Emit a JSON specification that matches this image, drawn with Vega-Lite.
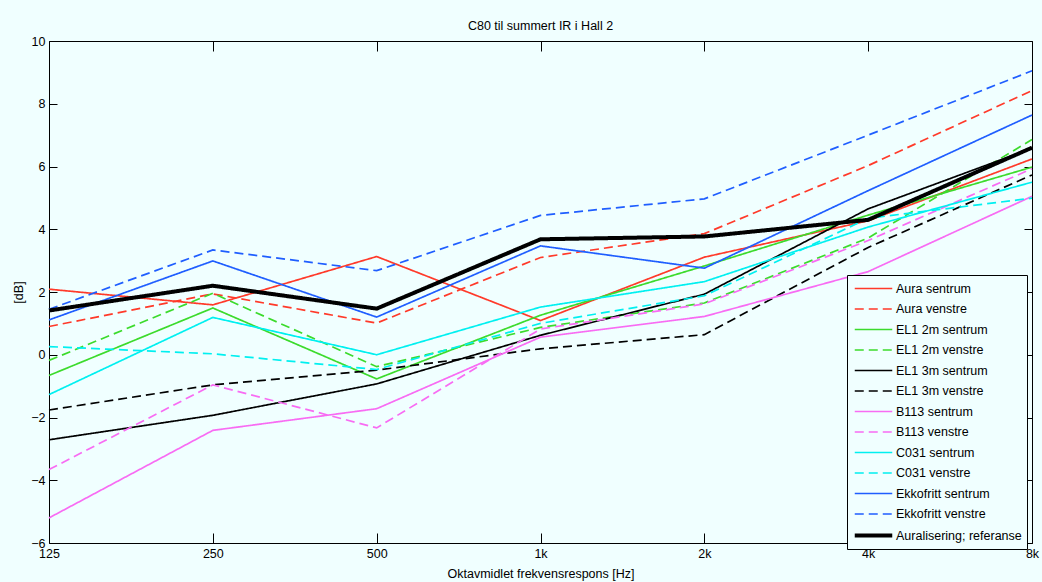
{
  "$schema": "https://vega.github.io/schema/vega-lite/v6.json",
  "width": 983,
  "height": 502,
  "autosize": "none",
  "padding": {"left": 49, "top": 41, "right": 10, "bottom": 39},
  "background": "#F0FFFF",
  "config": {
    "font": "Liberation Sans",
    "view": {"stroke": null},
    "axis": {
      "grid": false,
      "domainColor": "black",
      "tickColor": "black",
      "labelColor": "black",
      "titleColor": "black",
      "labelFont": "Liberation Sans",
      "labelFontSize": 12.5,
      "titleFont": "Liberation Sans",
      "titleFontSize": 12.5,
      "titleFontWeight": "normal",
      "domainWidth": 1,
      "tickWidth": 1
    },
    "legend": {
      "orient": "none",
      "legendX": 798,
      "legendY": 234,
      "strokeColor": "black",
      "fillColor": "#F0FFFF",
      "padding": 5,
      "labelFont": "Liberation Sans",
      "labelFontSize": 12.5,
      "labelColor": "black",
      "symbolType": "M-2.5,0H2.5",
      "symbolSize": 225,
      "symbolOffset": 12,
      "labelOffset": 13,
      "rowPadding": 5.5
    }
  },
  "title": {
    "text": "C80 til summert IR i Hall 2",
    "frame": "group",
    "anchor": "middle",
    "baseline": "alphabetic",
    "offset": 10,
    "dy": 17,
    "fontSize": 12.5,
    "fontWeight": "normal",
    "font": "Liberation Sans",
    "color": "black"
  },
  "data": {
    "values": [
      {"series": "Aura sentrum", "f": "125", "v": 2.09},
      {"series": "Aura sentrum", "f": "250", "v": 1.59},
      {"series": "Aura sentrum", "f": "500", "v": 3.13},
      {"series": "Aura sentrum", "f": "1k", "v": 1.09},
      {"series": "Aura sentrum", "f": "2k", "v": 3.11},
      {"series": "Aura sentrum", "f": "4k", "v": 4.27},
      {"series": "Aura sentrum", "f": "8k", "v": 6.24},
      {"series": "Aura venstre", "f": "125", "v": 0.90},
      {"series": "Aura venstre", "f": "250", "v": 1.94},
      {"series": "Aura venstre", "f": "500", "v": 1.01},
      {"series": "Aura venstre", "f": "1k", "v": 3.10},
      {"series": "Aura venstre", "f": "2k", "v": 3.86},
      {"series": "Aura venstre", "f": "4k", "v": 6.03},
      {"series": "Aura venstre", "f": "8k", "v": 8.42},
      {"series": "EL1 2m sentrum", "f": "125", "v": -0.66},
      {"series": "EL1 2m sentrum", "f": "250", "v": 1.49},
      {"series": "EL1 2m sentrum", "f": "500", "v": -0.77},
      {"series": "EL1 2m sentrum", "f": "1k", "v": 1.26},
      {"series": "EL1 2m sentrum", "f": "2k", "v": 2.83},
      {"series": "EL1 2m sentrum", "f": "4k", "v": 4.45},
      {"series": "EL1 2m sentrum", "f": "8k", "v": 5.98},
      {"series": "EL1 2m venstre", "f": "125", "v": -0.18},
      {"series": "EL1 2m venstre", "f": "250", "v": 1.96},
      {"series": "EL1 2m venstre", "f": "500", "v": -0.38},
      {"series": "EL1 2m venstre", "f": "1k", "v": 0.87},
      {"series": "EL1 2m venstre", "f": "2k", "v": 1.65},
      {"series": "EL1 2m venstre", "f": "4k", "v": 3.72},
      {"series": "EL1 2m venstre", "f": "8k", "v": 6.86},
      {"series": "EL1 3m sentrum", "f": "125", "v": -2.71},
      {"series": "EL1 3m sentrum", "f": "250", "v": -1.93},
      {"series": "EL1 3m sentrum", "f": "500", "v": -0.93},
      {"series": "EL1 3m sentrum", "f": "1k", "v": 0.62},
      {"series": "EL1 3m sentrum", "f": "2k", "v": 1.93},
      {"series": "EL1 3m sentrum", "f": "4k", "v": 4.65},
      {"series": "EL1 3m sentrum", "f": "8k", "v": 6.58},
      {"series": "EL1 3m venstre", "f": "125", "v": -1.76},
      {"series": "EL1 3m venstre", "f": "250", "v": -0.96},
      {"series": "EL1 3m venstre", "f": "500", "v": -0.49},
      {"series": "EL1 3m venstre", "f": "1k", "v": 0.19},
      {"series": "EL1 3m venstre", "f": "2k", "v": 0.64},
      {"series": "EL1 3m venstre", "f": "4k", "v": 3.42},
      {"series": "EL1 3m venstre", "f": "8k", "v": 5.73},
      {"series": "B113 sentrum", "f": "125", "v": -5.20},
      {"series": "B113 sentrum", "f": "250", "v": -2.41},
      {"series": "B113 sentrum", "f": "500", "v": -1.72},
      {"series": "B113 sentrum", "f": "1k", "v": 0.56},
      {"series": "B113 sentrum", "f": "2k", "v": 1.22},
      {"series": "B113 sentrum", "f": "4k", "v": 2.65},
      {"series": "B113 sentrum", "f": "8k", "v": 5.05},
      {"series": "B113 venstre", "f": "125", "v": -3.66},
      {"series": "B113 venstre", "f": "250", "v": -0.96},
      {"series": "B113 venstre", "f": "500", "v": -2.33},
      {"series": "B113 venstre", "f": "1k", "v": 0.82},
      {"series": "B113 venstre", "f": "2k", "v": 1.62},
      {"series": "B113 venstre", "f": "4k", "v": 3.64},
      {"series": "B113 venstre", "f": "8k", "v": 5.93},
      {"series": "C031 sentrum", "f": "125", "v": -1.27},
      {"series": "C031 sentrum", "f": "250", "v": 1.19},
      {"series": "C031 sentrum", "f": "500", "v": 0.0},
      {"series": "C031 sentrum", "f": "1k", "v": 1.52},
      {"series": "C031 sentrum", "f": "2k", "v": 2.33},
      {"series": "C031 sentrum", "f": "4k", "v": 4.07},
      {"series": "C031 sentrum", "f": "8k", "v": 5.50},
      {"series": "C031 venstre", "f": "125", "v": 0.26},
      {"series": "C031 venstre", "f": "250", "v": 0.03},
      {"series": "C031 venstre", "f": "500", "v": -0.47},
      {"series": "C031 venstre", "f": "1k", "v": 1.00},
      {"series": "C031 venstre", "f": "2k", "v": 1.88},
      {"series": "C031 venstre", "f": "4k", "v": 4.35},
      {"series": "C031 venstre", "f": "8k", "v": 4.99},
      {"series": "Ekkofritt sentrum", "f": "125", "v": 1.11},
      {"series": "Ekkofritt sentrum", "f": "250", "v": 2.99},
      {"series": "Ekkofritt sentrum", "f": "500", "v": 1.20},
      {"series": "Ekkofritt sentrum", "f": "1k", "v": 3.47},
      {"series": "Ekkofritt sentrum", "f": "2k", "v": 2.76},
      {"series": "Ekkofritt sentrum", "f": "4k", "v": 5.23},
      {"series": "Ekkofritt sentrum", "f": "8k", "v": 7.64},
      {"series": "Ekkofritt venstre", "f": "125", "v": 1.45},
      {"series": "Ekkofritt venstre", "f": "250", "v": 3.34},
      {"series": "Ekkofritt venstre", "f": "500", "v": 2.68},
      {"series": "Ekkofritt venstre", "f": "1k", "v": 4.44},
      {"series": "Ekkofritt venstre", "f": "2k", "v": 4.97},
      {"series": "Ekkofritt venstre", "f": "4k", "v": 7.00},
      {"series": "Ekkofritt venstre", "f": "8k", "v": 9.05},
      {"series": "Auralisering; referanse", "f": "125", "v": 1.41},
      {"series": "Auralisering; referanse", "f": "250", "v": 2.20},
      {"series": "Auralisering; referanse", "f": "500", "v": 1.47},
      {"series": "Auralisering; referanse", "f": "1k", "v": 3.68},
      {"series": "Auralisering; referanse", "f": "2k", "v": 3.77},
      {"series": "Auralisering; referanse", "f": "4k", "v": 4.30},
      {"series": "Auralisering; referanse", "f": "8k", "v": 6.60}
    ]
  },
  "layer": [
    {
      "mark": {"type": "line", "strokeJoin": "miter", "strokeCap": "butt"},
      "encoding": {
        "x": {
          "field": "f",
          "type": "ordinal",
          "sort": ["125", "250", "500", "1k", "2k", "4k", "8k"],
          "scale": {"type": "point", "padding": 0},
          "axis": {
            "orient": "bottom",
            "labelAngle": 0,
            "tickSize": -10,
            "labelPadding": 14,
            "labelOverlap": false,
            "labelBound": false,
            "labelFlush": false,
            "title": "Oktavmidlet frekvensrespons [Hz]",
            "titlePadding": 8
          }
        },
        "y": {
          "field": "v",
          "type": "quantitative",
          "scale": {"domain": [-6, 10], "nice": false, "zero": false},
          "axis": {
            "orient": "left",
            "values": [-6, -4, -2, 0, 2, 4, 6, 8, 10],
            "tickSize": -8,
            "labelPadding": 12,
            "labelOverlap": false,
            "labelBound": false,
            "labelFlush": false,
            "title": "[dB]",
            "titlePadding": 5
          }
        },
        "color": {
          "field": "series",
          "type": "nominal",
          "scale": {
            "domain": ["Aura sentrum", "Aura venstre", "EL1 2m sentrum", "EL1 2m venstre", "EL1 3m sentrum", "EL1 3m venstre", "B113 sentrum", "B113 venstre", "C031 sentrum", "C031 venstre", "Ekkofritt sentrum", "Ekkofritt venstre", "Auralisering; referanse"],
            "range": ["#FF3A2A", "#FF3A2A", "#3CDB2C", "#3CDB2C", "#000000", "#000000", "#F86CF3", "#F86CF3", "#00F0F0", "#00F0F0", "#1F5EFF", "#1F5EFF", "#000000"]
          },
          "legend": {"title": null}
        },
        "strokeDash": {
          "field": "series",
          "type": "nominal",
          "scale": {
            "domain": ["Aura sentrum", "Aura venstre", "EL1 2m sentrum", "EL1 2m venstre", "EL1 3m sentrum", "EL1 3m venstre", "B113 sentrum", "B113 venstre", "C031 sentrum", "C031 venstre", "Ekkofritt sentrum", "Ekkofritt venstre", "Auralisering; referanse"],
            "range": [[1, 0], [9, 5], [1, 0], [9, 5], [1, 0], [9, 5], [1, 0], [9, 5], [1, 0], [9, 5], [1, 0], [9, 5], [1, 0]]
          },
          "legend": {"title": null}
        },
        "strokeWidth": {
          "field": "series",
          "type": "nominal",
          "scale": {
            "type": "ordinal",
            "domain": ["Aura sentrum", "Aura venstre", "EL1 2m sentrum", "EL1 2m venstre", "EL1 3m sentrum", "EL1 3m venstre", "B113 sentrum", "B113 venstre", "C031 sentrum", "C031 venstre", "Ekkofritt sentrum", "Ekkofritt venstre", "Auralisering; referanse"],
            "range": [1.7, 1.7, 1.7, 1.7, 1.7, 1.7, 1.7, 1.7, 1.7, 1.7, 1.7, 1.7, 4]
          },
          "legend": {"title": null}
        }
      }
    },
    {
      "mark": {"type": "point", "opacity": 0},
      "encoding": {
        "x": {
          "field": "f",
          "type": "ordinal",
          "sort": ["125", "250", "500", "1k", "2k", "4k", "8k"],
          "axis": {"orient": "top", "labels": false, "tickSize": -10, "title": null}
        },
        "y": {
          "field": "v",
          "type": "quantitative",
          "axis": {"orient": "right", "labels": false, "values": [-6, -4, -2, 0, 2, 4, 6, 8, 10], "tickSize": -8, "title": null}
        }
      }
    }
  ],
  "resolve": {"axis": {"x": "independent", "y": "independent"}}
}
